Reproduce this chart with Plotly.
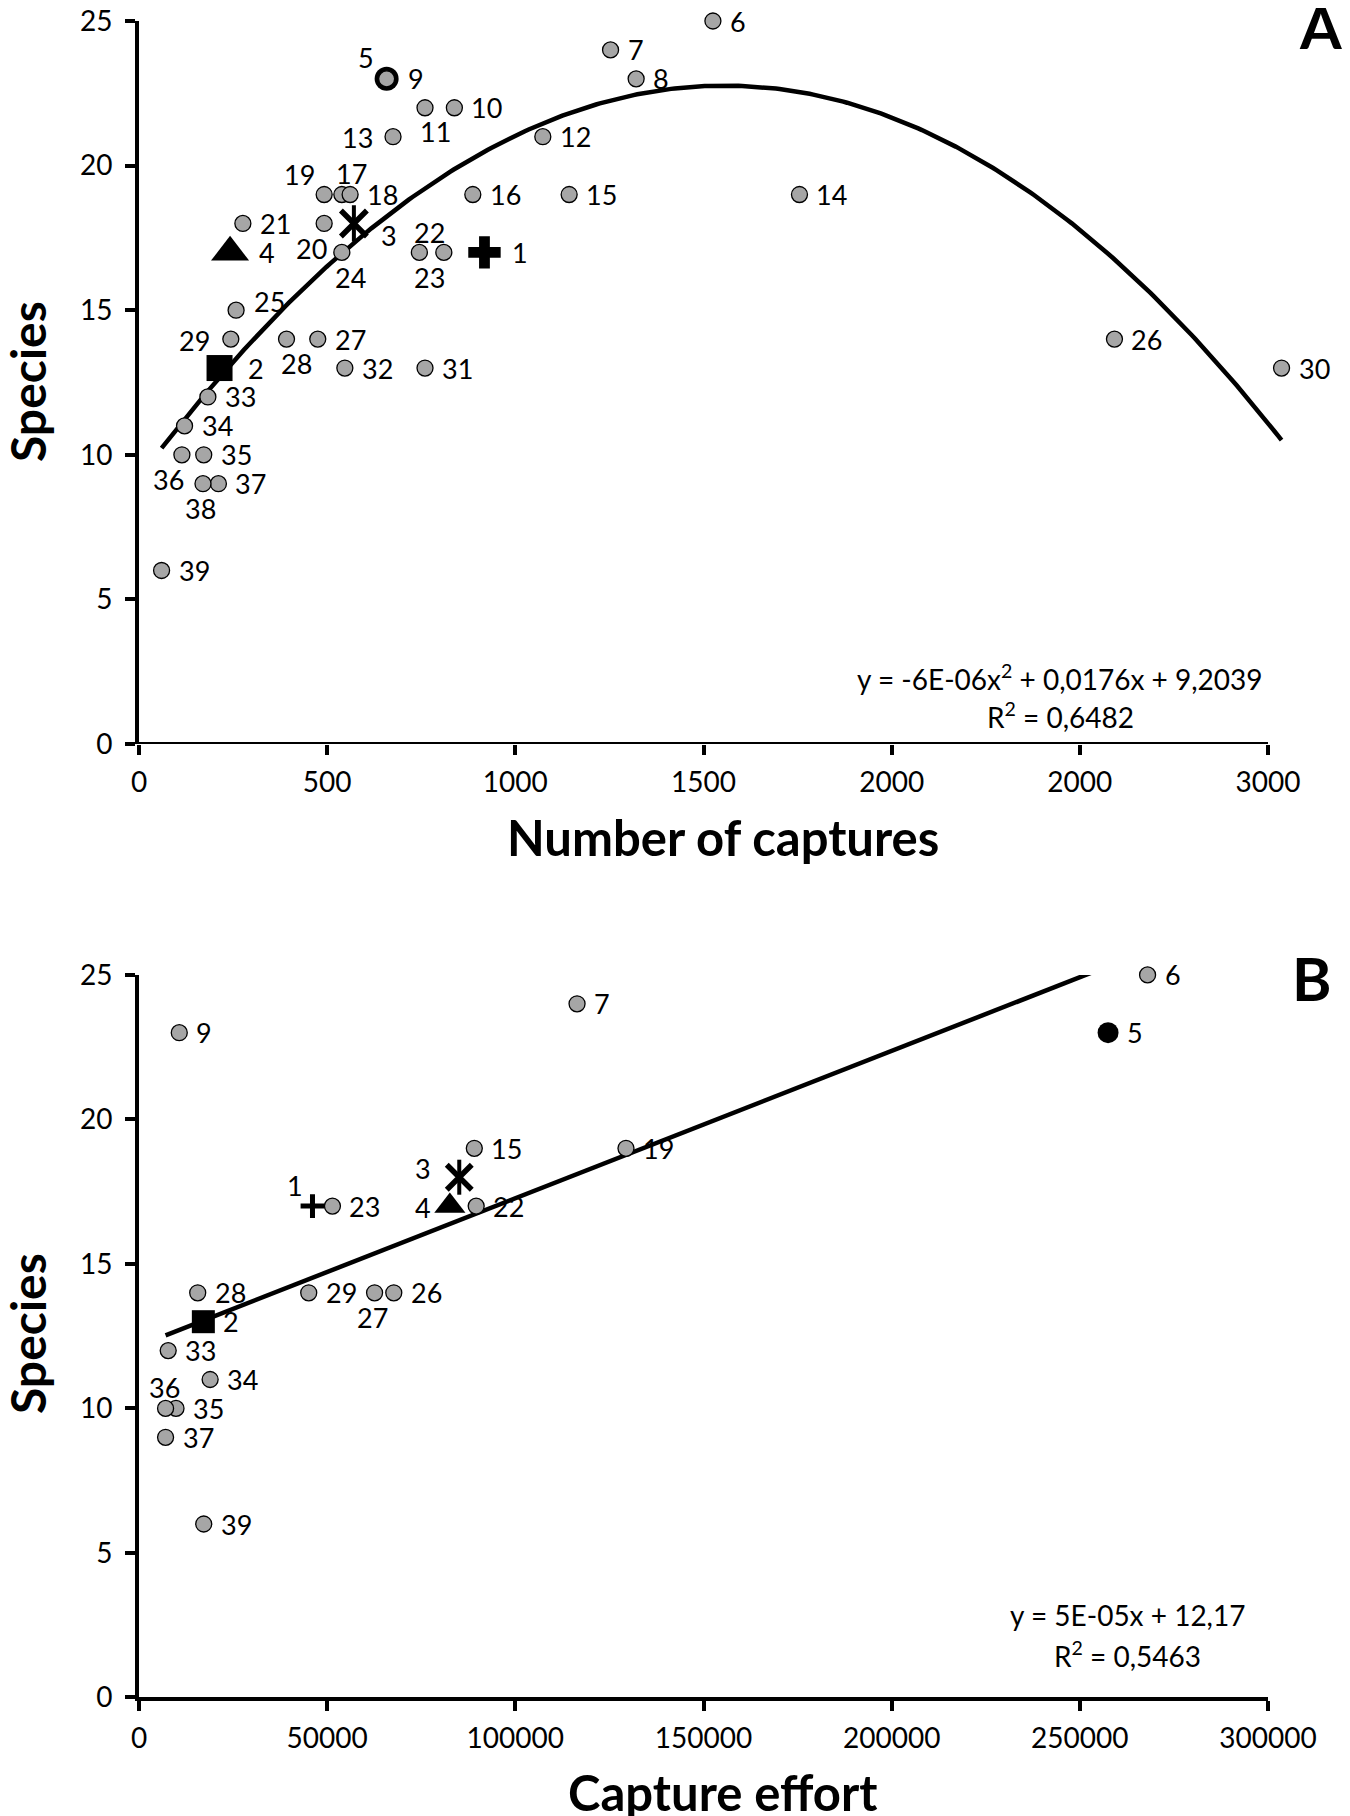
import plotly.graph_objects as go
import numpy as np

# ---------------- data ----------------
SITES_A = list(range(1, 40))
CAPTURES_A = [918, 214, 571, 242, 658, 1525, 1253, 1321, 658, 838,
              760, 1073, 675, 1755, 1143, 887, 539, 561, 492, 492,
              276, 810, 745, 539, 258, 2592, 475, 392, 244, 3036,
              760, 547, 183, 121, 172, 114, 211, 170, 60]
SPECIES_A = [17, 13, 18, 17, 23, 25, 24, 23, 23, 22,
             22, 21, 21, 19, 19, 19, 19, 19, 19, 18,
             18, 17, 17, 17, 15, 14, 14, 14, 14, 13,
             13, 13, 12, 11, 10, 10, 9, 9, 6]

SITES_B = [1, 2, 3, 4, 5, 6, 7, 9, 15, 19, 22, 23, 26, 27, 28, 29, 33, 34, 35, 36, 37, 39]
EFFORT_B = [46100, 17100, 85100, 82600, 257500, 268000, 116400, 10700, 89100, 129400,
            89600, 51400, 67700, 62600, 15600, 45100, 7760, 18900, 9830, 7060, 7060, 17200]
SPECIES_B = [17, 13, 18, 17, 23, 25, 24, 23, 19, 19,
             17, 17, 14, 14, 14, 14, 12, 11, 10, 10, 9, 6]

TREND_A = [-5.6e-6, 0.01743, 9.2039]  # quadratic trendline as drawn
TREND_B = [5.1e-5, 12.17]             # linear trendline as drawn
EQ_A = ["y = -6E-06x<sup>2</sup> + 0,0176x + 9,2039", "R<sup>2</sup> = 0,6482"]
EQ_B = ["y = 5E-05x + 12,17", "R<sup>2</sup> = 0,5463"]

X_TICKS_A = [0, 500, 1000, 1500, 2000, 2500, 3000]
X_TICK_LABELS_A = ["0", "500", "1000", "1500", "2000", "2000", "3000"]
X_TICKS_B = [0, 50000, 100000, 150000, 200000, 250000, 300000]
X_TICK_LABELS_B = ["0", "50000", "100000", "150000", "200000", "250000", "300000"]
Y_TICKS = [0, 5, 10, 15, 20, 25]

# ---------------- styling ----------------
FONT = "Lato, 'Open Sans', Arial, sans-serif"
GREY = "#a6a6a6"
W, H = 1350, 1816
OFF = 8  # page offset of the figure inside the browser window

# label placement: 'R' = to the right (xshift of left edge), 'C' = centred with offsets
LAB_A = {1: ('R', 26, 0), 2: ('R', 26, 0), 3: ('C', 35, -12), 4: ('R', 27, 0),
         5: ('C', -21, 21), 9: ('R', 19, 0), 11: ('C', 10, -24), 13: ('C', -36, -1),
         17: ('C', 10, 21), 19: ('C', -25, 20), 20: ('C', -13, -25), 22: ('C', -14, 20),
         23: ('C', 10, -25), 24: ('C', 9, -25), 25: ('C', 33, 9), 28: ('C', 10, -24),
         29: ('C', -36, -1), 36: ('C', -13, -25), 38: ('C', -2, -25)}
LAB_B = {1: ('C', -17, 21), 2: ('R', 18, 0), 3: ('C', -36, 9), 4: ('C', -27, -1),
         5: ('R', 17, 0), 27: ('C', -2, -25), 36: ('C', -1, 21)}
DEFAULT_LAB = ('R', 15, 0)

# pixel geometry (reference pixels)
X0_PX, XEND_PX = 139, 1268          # x = 0 and x = axis max
PX_PER_A = (XEND_PX - X0_PX) / 3000
A_RANGE_MAX = 3045                  # a little room so the outlying site stays visible

fig = go.Figure()


def add_panel(sites, xs, ys, xa, ya, panel):
    sites = list(sites)
    xs = list(xs)
    ys = list(ys)
    grey_idx = [i for i, s in enumerate(sites) if s > 5]
    idx = {s: i for i, s in enumerate(sites)}
    big = panel == "A"
    i5 = idx[5]
    fig.add_trace(go.Scatter(x=[xs[i5]], y=[ys[i5]], mode="markers", xaxis=xa, yaxis=ya,
                             cliponaxis=False,
                             marker=dict(symbol="circle", size=24 if big else 21,
                                         color="black", line=dict(width=0))))
    fig.add_trace(go.Scatter(x=[xs[i] for i in grey_idx], y=[ys[i] for i in grey_idx],
                             mode="markers", xaxis=xa, yaxis=ya, cliponaxis=False,
                             marker=dict(symbol="circle", size=16, color=GREY,
                                         line=dict(width=1.3, color="black"))))
    i = idx[1]
    if big:
        fig.add_trace(go.Scatter(x=[xs[i]], y=[ys[i]], mode="markers", xaxis=xa, yaxis=ya,
                                 cliponaxis=False,
                                 marker=dict(symbol="cross", size=27, color="black",
                                             line=dict(width=0))))
    else:
        fig.add_trace(go.Scatter(x=[xs[i]], y=[ys[i]], mode="markers", xaxis=xa, yaxis=ya,
                                 cliponaxis=False,
                                 marker=dict(symbol="cross-thin", size=17, color="black",
                                             line=dict(width=5, color="black"))))
    i = idx[2]
    fig.add_trace(go.Scatter(x=[xs[i]], y=[ys[i]], mode="markers", xaxis=xa, yaxis=ya,
                             cliponaxis=False,
                             marker=dict(symbol="square", size=26 if big else 23, color="black",
                                         line=dict(width=0))))
    i = idx[3]
    for sym in ("x-thin", "line-ns"):
        fig.add_trace(go.Scatter(x=[xs[i]], y=[ys[i]], mode="markers", xaxis=xa, yaxis=ya,
                                 cliponaxis=False,
                                 marker=dict(symbol=sym, size=26 if big else 25, color="black",
                                             line=dict(width=5.5 if sym == "x-thin" else 4,
                                                       color="black"))))
    i = idx[4]
    fig.add_trace(go.Scatter(x=[xs[i]], y=[ys[i]], mode="markers", xaxis=xa, yaxis=ya,
                             cliponaxis=False,
                             marker=dict(symbol="triangle-up", size=33 if big else 27,
                                         color="black", line=dict(width=0))))
    lab = LAB_A if big else LAB_B
    xref = "x" if xa == "x" else "x2"
    yref = "y" if ya == "y" else "y2"
    for s, x, y in zip(sites, xs, ys):
        mode, dx, dy = lab.get(s, DEFAULT_LAB)
        fig.add_annotation(x=x, y=y, xref=xref, yref=yref, text=str(s), showarrow=False,
                           xanchor="left" if mode == "R" else "center", yanchor="middle",
                           xshift=dx, yshift=dy,
                           font=dict(family=FONT, size=27, color="black"))


# trendlines
xa_fit = np.linspace(min(CAPTURES_A), max(CAPTURES_A), 300)
fig.add_trace(go.Scatter(x=xa_fit, y=np.polyval(TREND_A, xa_fit), mode="lines",
                         xaxis="x", yaxis="y", line=dict(color="black", width=4.5)))
xb_fit = np.array([min(EFFORT_B), max(EFFORT_B)])
fig.add_trace(go.Scatter(x=xb_fit, y=np.polyval(TREND_B, xb_fit), mode="lines",
                         xaxis="x2", yaxis="y2", line=dict(color="black", width=4.5)))

add_panel(SITES_A, CAPTURES_A, SPECIES_A, "x", "y", "A")
add_panel(SITES_B, EFFORT_B, SPECIES_B, "x2", "y2", "B")

axis_common = dict(linecolor="black", linewidth=4, ticks="outside",
                   ticklen=10, tickwidth=3.5, tickcolor="black", showgrid=False,
                   zeroline=False, automargin=False, ticklabeloverflow="allow",
                   tickfont=dict(family=FONT, size=28, color="black"))

xdom_a = [(X0_PX - OFF) / W, (X0_PX - OFF + A_RANGE_MAX * PX_PER_A) / W]
xdom_b = [(X0_PX - OFF) / W, (XEND_PX - OFF) / W]
fig.update_layout(
    width=W, height=H, margin=dict(l=0, r=0, t=0, b=0),
    paper_bgcolor="white", plot_bgcolor="white", showlegend=False,
    xaxis=dict(domain=xdom_a, range=[0, A_RANGE_MAX], tickvals=X_TICKS_A,
               ticktext=X_TICK_LABELS_A, anchor="y", ticklabelstandoff=3,
               showline=False, **axis_common),
    yaxis=dict(domain=[1 - (744 - OFF) / H, 1 - (21 - OFF) / H], range=[0, 25],
               tickvals=Y_TICKS, anchor="x", ticklabelstandoff=7, showline=True,
               **axis_common),
    xaxis2=dict(domain=xdom_b, range=[0, 300000], tickvals=X_TICKS_B,
                ticktext=X_TICK_LABELS_B, anchor="y2", ticklabelstandoff=3,
                showline=True, **axis_common),
    yaxis2=dict(domain=[1 - (1697.4 - OFF) / H, 1 - (974.9 - OFF) / H], range=[0, 25],
                tickvals=Y_TICKS, anchor="x2", ticklabelstandoff=7, showline=True,
                **axis_common),
)
# x axis line of panel A drawn only up to the last tick
fig.add_shape(type="line", xref="x", yref="y", x0=-40, x1=X_TICKS_A[-1], y0=0, y1=0,
              line=dict(color="black", width=4))


def paper_text(text, px, py, size, bold=False, angle=0):
    fig.add_annotation(x=(px - OFF) / W, y=1 - (py - OFF) / H, xref="paper", yref="paper",
                       text=text, showarrow=False, xanchor="center", yanchor="middle",
                       textangle=angle,
                       font=dict(family=FONT, size=size, color="black",
                                 weight="bold" if bold else "normal"))


paper_text("Species", 27, 382, 48, bold=True, angle=-90)
paper_text("Species", 27, 1334, 48, bold=True, angle=-90)
paper_text("Number of captures", 723, 837, 49, bold=True)
paper_text("Capture effort", 723, 1792, 49, bold=True)
paper_text("A", 1320, 26, 60, bold=True)
paper_text("B", 1312, 978, 60, bold=True)
paper_text(EQ_A[0], 1060, 677, 28)
paper_text(EQ_A[1], 1060, 715, 28)
paper_text(EQ_B[0], 1127, 1615, 28)
paper_text(EQ_B[1], 1127, 1654, 28)

fig.write_html("out.html")
